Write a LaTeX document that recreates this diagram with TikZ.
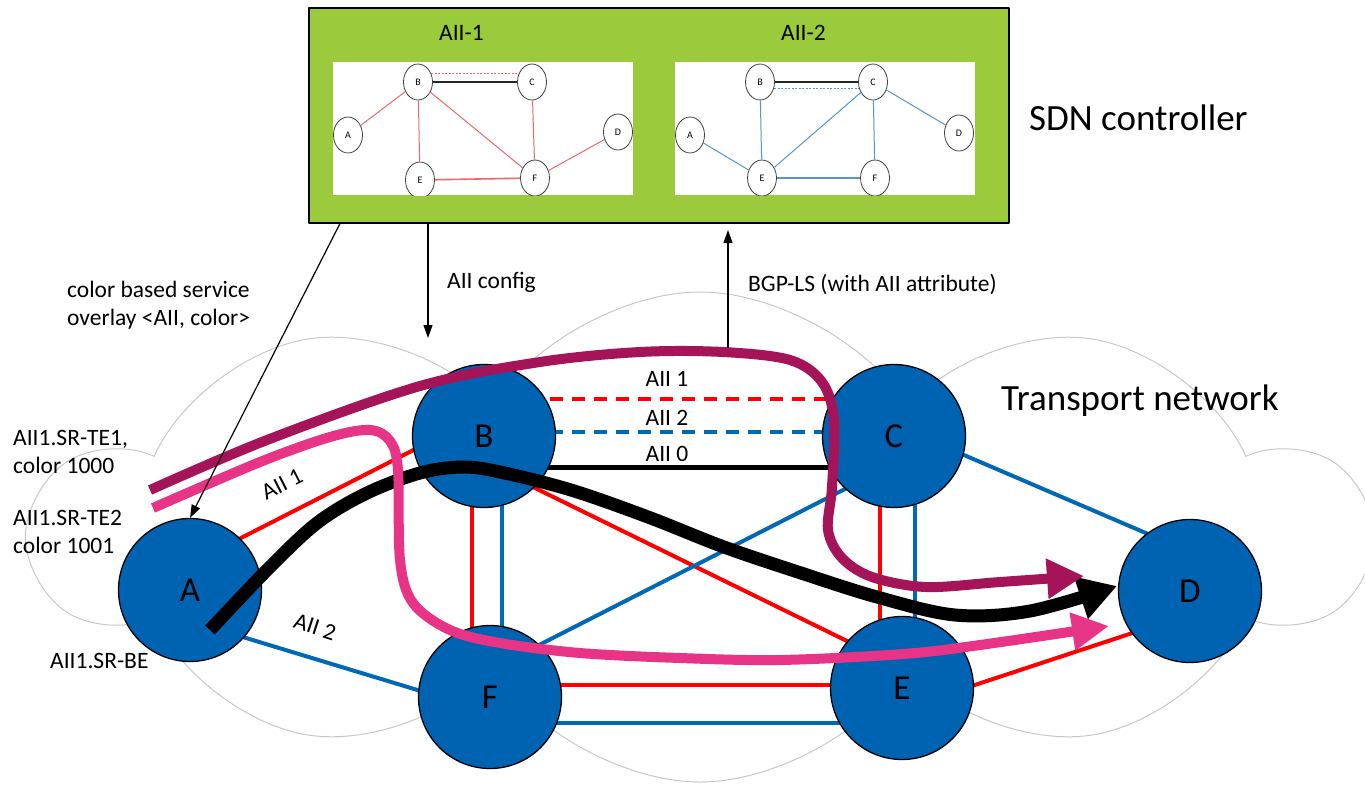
\documentclass[tikz,border=0pt]{standalone}
\usepackage{fontspec}
\setmainfont{Carlito}
\usetikzlibrary{arrows.meta,shapes.symbols,shapes.geometric,backgrounds}
\definecolor{sdngreen}{RGB}{155,202,60}
\definecolor{nodeblue}{RGB}{0,99,177}
\definecolor{linkred}{RGB}{255,0,0}
\definecolor{linkblue}{RGB}{0,104,180}
\definecolor{pathplum}{RGB}{165,20,88}
\definecolor{pathpink}{RGB}{232,52,135}
\definecolor{insetred}{RGB}{232,105,105}
\definecolor{insetblue}{RGB}{85,150,200}
\newcommand\myLbl{\fontsize{23.5}{27}\selectfont}
\newcommand\myBig{\fontsize{37}{42}\selectfont}
\newcommand\myNode{\fontsize{35}{40}\selectfont}
\begin{document}
\begin{tikzpicture}[x=1pt,y=-1pt,line join=round,
  netnode/.style={circle,draw=black,line width=1.3pt,fill=nodeblue,minimum size=143pt,inner sep=0pt,font=\myNode},
  inode/.style={ellipse,draw=black!75,line width=0.8pt,fill=white,minimum width=29pt,minimum height=36pt,inner sep=0pt,font=\fontsize{10}{11}\selectfont},
  redlink/.style={draw=linkred,line width=4pt},
  bluelink/.style={draw=linkblue,line width=4pt},
  ired/.style={draw=insetred,line width=1pt},
  iblue/.style={draw=insetblue,line width=1pt},
  lbl/.style={font=\myLbl,inner sep=0pt},
  ctrl/.style={draw=black,line width=1.2pt,-{Triangle[length=13pt,width=9pt]}},
  fatpath/.style={line cap=butt},
]
\useasboundingbox (0,0) rectangle (1365,785);

% ---------- SDN controller ----------
\node[draw=black,line width=1.5pt,fill=sdngreen,minimum width=700pt,minimum height=215pt,anchor=north west,inner sep=0pt] (sdn) at (308,7) {};
\node[fill=white,minimum width=300pt,minimum height=133pt,anchor=north west,inner sep=0pt] (img1) at (333,62) {};
\node[fill=white,minimum width=300pt,minimum height=133pt,anchor=north west,inner sep=0pt] (img2) at (675,62) {};
\node[lbl,anchor=base west] (t1) at (439,40) {AII-1};
\node[lbl,anchor=base west] (t2) at (781,40) {AII-2};
\node[lbl,font=\myBig,anchor=base west] (tsdn) at (1029,130) {SDN controller};

% inset 1
\begin{scope}
\clip (333,62) rectangle (633,195);
\node[inode] (i1A) at (348,135) {A};
\node[inode] (i1B) at (418,82) {B};
\node[inode] (i1C) at (532,82) {C};
\node[inode] (i1D) at (618,132) {D};
\node[inode] (i1E) at (420,180) {E};
\node[inode] (i1F) at (535,178) {F};
\draw[ired] (i1A) -- (i1B);
\draw[ired] (i1B) -- (i1E);
\draw[ired] (i1B) -- (i1F);
\draw[ired] (i1C) -- (i1F);
\draw[ired,line width=1.6pt] (i1E) -- (i1F);
\draw[ired] (i1F) -- (i1D);
\draw[black!85,line width=1.1pt] (i1B) -- (i1C);
\draw[ired,line width=1.4pt,dash pattern=on 2pt off 1.5pt] (i1B.32) -- (i1C.148);
\end{scope}

% inset 2
\begin{scope}
\clip (675,62) rectangle (975,195);
\node[inode] (i2A) at (690,135) {A};
\node[inode] (i2B) at (760,82) {B};
\node[inode] (i2C) at (873,82) {C};
\node[inode] (i2D) at (959,133) {D};
\node[inode] (i2E) at (762,178) {E};
\node[inode] (i2F) at (875,178) {F};
\draw[iblue] (i2A) -- (i2E);
\draw[iblue] (i2B) -- (i2E);
\draw[iblue] (i2E) -- (i2C);
\draw[iblue] (i2C) -- (i2F);
\draw[iblue] (i2C) -- (i2D);
\draw[iblue,line width=1.6pt] (i2E) -- (i2F);
\draw[black!85,line width=1.1pt] (i2B) -- (i2C);
\draw[iblue,line width=1.4pt,dash pattern=on 2pt off 1.5pt] (i2B.-24) -- (i2C.204);
\end{scope}

% ---------- network nodes ----------
\node[netnode] (A) at (190,590) {A};
\node[netnode] (B) at (484,436) {B};
\node[netnode] (C) at (894,436) {C};
\node[netnode] (D) at (1190,591) {D};
\node[netnode] (E) at (902,688) {E};
\node[netnode] (F) at (490,697) {F};

\begin{scope}[on background layer]
\node[cloud,draw=black!22,line width=1pt,cloud puffs=10,cloud puff arc=115,aspect=2.6,minimum width=1330pt,minimum height=490pt,inner sep=0pt] (cloud) at (700,537) {};
% links
\draw[redlink] ([yshift=26pt]A.center) -- ([yshift=22pt]B.center);
\draw[bluelink] ([yshift=-31pt]A.center) -- ([yshift=-15pt]F.center);
\draw[redlink,dash pattern=on 13pt off 9pt] ([yshift=37pt]B.center) -- ([yshift=37pt]C.center);
\draw[bluelink,dash pattern=on 13pt off 9pt] ([yshift=4pt]B.center) -- ([yshift=4pt]C.center);
\draw[black,line width=5pt] ([yshift=-31pt]B.center) -- ([yshift=-31pt]C.center);
\draw[redlink] ([xshift=-12pt]B.center) -- ([xshift=-18pt]F.center);
\draw[bluelink] ([xshift=18pt]B.center) -- ([xshift=12pt]F.center);
\draw[redlink] ([yshift=-27pt]B.center) -- ([yshift=20pt]E.center);
\draw[bluelink] ([yshift=27pt]F.center) -- ([yshift=-28pt]C.center);
\draw[redlink] ([xshift=-14pt]C.center) -- ([xshift=-22pt]E.center);
\draw[bluelink] ([xshift=21pt]C.center) -- ([xshift=13pt]E.center);
\draw[bluelink] ([yshift=11pt]C.center) -- ([yshift=39pt]D.center);
\draw[redlink] ([yshift=12pt]F.center) -- ([yshift=3pt]E.center);
\draw[bluelink] ([yshift=-26pt]F.center) -- ([yshift=-35pt]E.center);
\draw[redlink] ([yshift=-21pt]E.center) -- ([yshift=-23pt]D.center);
\end{scope}

% link labels
\node[lbl,rotate=27] (lab1) at (282,484) {AII 1};
\node[lbl,rotate=-18] (lab2) at (315,627) {AII 2};
\node[lbl,anchor=base] (lab3) at (667,386) {AII 1};
\node[lbl,anchor=base] (lab4) at (667,425) {AII 2};
\node[lbl,anchor=base] (lab5) at (667,461) {AII 0};
\node[lbl,font=\myBig,anchor=base west] (ttn) at (1001,410) {Transport network};

% ---------- service paths ----------
\coordinate (bkS) at (210,630);
\coordinate (bkT) at (1117,586);
\coordinate (plS) at (150,490);
\coordinate (plT) at (1084,576);
\coordinate (pkS) at (153,508);
\coordinate (pkT) at (1109,626);
\draw[fatpath,black,line width=13pt,-{Triangle[length=38pt,width=42pt]}]
  plot[smooth,tension=0.55] coordinates {(bkS) (267,570) (317,523) (367,493) (420,473) (462,467) (500,472) (571,490) (648,517) (724,547) (801,573) (877,597) (955,615) (1030,611) (bkT)};
\draw[fatpath,pathplum,line width=10pt,-{Triangle[length=37pt,width=38pt]}]
  plot[smooth,tension=0.55] coordinates {(plS) (267,440) (420,386) (540,362) (640,352) (723,352) (790,360) (822,382) (834,420) (832,487) (828,530) (842,558) (872,577) (926,587) (1000,582) (plT)};
\draw[fatpath,pathpink,line width=10pt,-{Triangle[length=37pt,width=36pt]}]
  plot[smooth,tension=0.55] coordinates {(pkS) (260,462) (330,437) (370,430) (390,441) (398,470) (400,560) (413,603) (450,630) (500,643) (580,653) (680,658) (780,660) (903,654) (980,645) (pkT)};

% ---------- controller connectors ----------
\coordinate (cfgEnd) at (428,338);
\coordinate (bgpStart) at (728,348);
\coordinate (bgpEnd) at (728,230);
\draw[ctrl] ([xshift=32pt]sdn.south west) -- (A.north);
\draw[ctrl] ([xshift=120pt]sdn.south west) -- (cfgEnd);
\draw[ctrl] (bgpStart) -- (bgpEnd);
\node[lbl,anchor=base west] (tcfg) at (447,288) {AII config};
\node[lbl,anchor=base west] (tbgp) at (748,291) {BGP-LS (with AII attribute)};

% ---------- side labels ----------
\node[lbl,anchor=base west] (s1) at (67,297) {color based service};
\node[lbl,anchor=base west] (s2) at (67,325) {overlay <AII, color>};
\node[lbl,anchor=base west] (s3) at (13,445) {AII1.SR-TE1,};
\node[lbl,anchor=base west] (s4) at (13,473) {color 1000};
\node[lbl,anchor=base west] (s5) at (13,525) {AII1.SR-TE2};
\node[lbl,anchor=base west] (s6) at (13,553) {color 1001};
\node[lbl,anchor=base west] (s7) at (50,668) {AII1.SR-BE};
\end{tikzpicture}
\end{document}
